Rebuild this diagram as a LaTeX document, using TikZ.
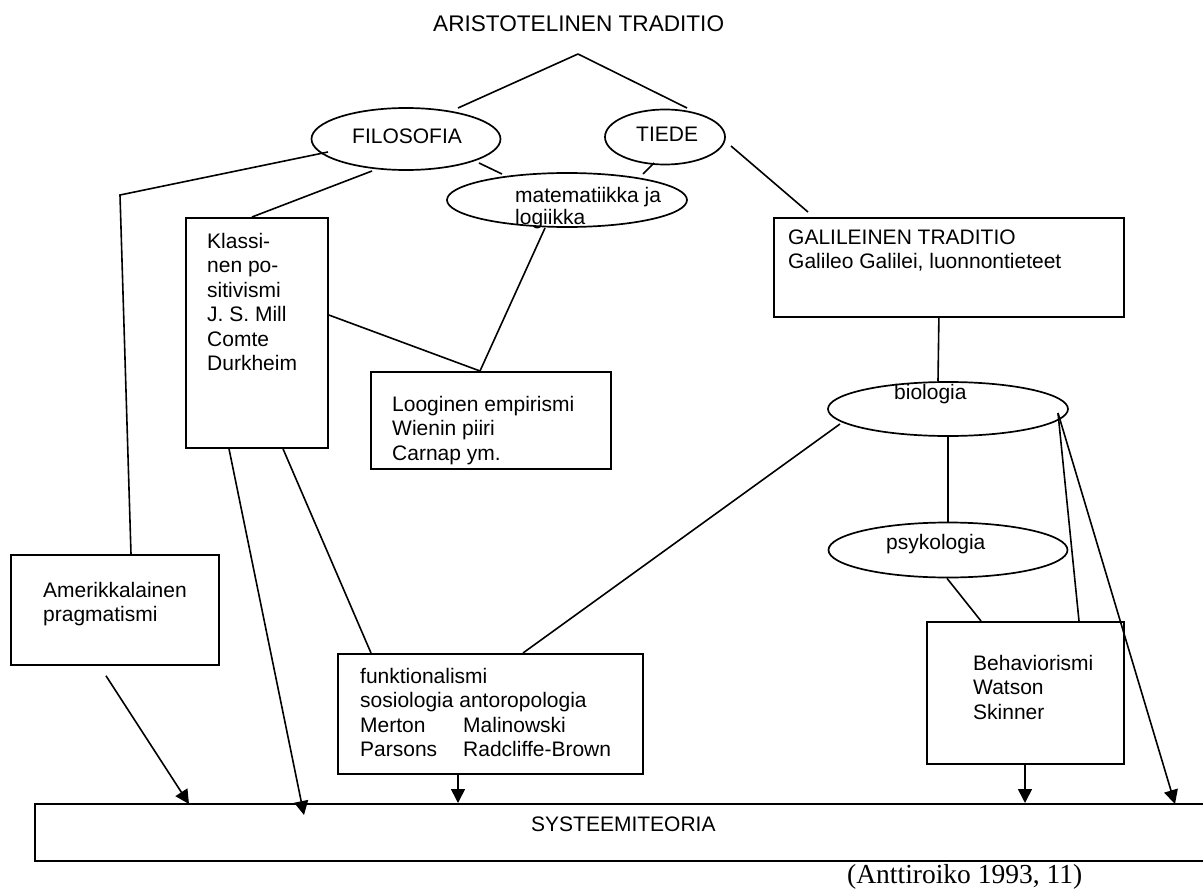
\documentclass[tikz,border=0pt]{standalone}
\usepackage{fontspec}
\setmainfont{Liberation Sans}
\newfontfamily\citefont{Liberation Serif}
\usetikzlibrary{shapes.geometric,arrows.meta,calc}

% left-aligned multi-line text whose baseline is the first line
\newcommand{\txtlines}[1]{\begin{tabular}[t]{@{}l@{}}#1\end{tabular}}

\begin{document}
\begin{tikzpicture}[x=1pt,y=-1pt,
  lbl/.style={inner sep=0pt, anchor=base west, font=\fontsize{21}{24.5}\selectfont},
  oval/.style={draw, ellipse, inner sep=0pt, line width=1.7pt},
  box/.style={draw, rectangle, inner sep=0pt, anchor=north west, line width=1.8pt},
  link/.style={line width=1.6pt},
  arr/.style={line width=1.6pt, -{Triangle[length=14pt,width=14pt]}},
]
\useasboundingbox (0,0) rectangle (1203,891);
\clip (0,0) rectangle (1203,891);

% ---- title
\node[lbl, font=\fontsize{22.6}{26}\selectfont] (aris) at (433,32) {ARISTOTELINEN TRADITIO};
\coordinate (apex) at (578,54);

% ---- ovals
\node[oval, minimum width=189pt, minimum height=62pt] (filo) at (406,139) {};
\node[oval, minimum width=120pt, minimum height=55pt] (tiede) at (665,137) {};
\node[oval, minimum width=240pt, minimum height=54pt] (mat) at (567,200) {};
\node[oval, minimum width=240pt, minimum height=54pt] (bio) at (948,409) {};
\node[oval, minimum width=239pt, minimum height=55pt] (psy) at (948,550) {};

\node[lbl] (filot) at (352,143) {FILOSOFIA};
\node[lbl] (tiedet) at (636,142) {TIEDE};
\node[lbl, font=\fontsize{21}{22}\selectfont] (matt) at (515,202) {\txtlines{matematiikka ja\\logiikka}};
\node[lbl] (biot) at (894,399) {biologia};
\node[lbl] (psyt) at (886,549) {psykologia};

% ---- boxes
\node[box, minimum width=142pt, minimum height=230pt] (klassi) at (185,217) {};
\node[box, minimum width=240pt, minimum height=97pt] (loog) at (370,371) {};
\node[box, minimum width=208pt, minimum height=110pt] (amer) at (10,554) {};
\node[box, minimum width=305pt, minimum height=120pt] (funk) at (337,653) {};
\node[box, minimum width=350pt, minimum height=99pt] (gal) at (773,217) {};
\node[box, minimum width=197pt, minimum height=142pt] (beh) at (926,621) {};
\node[box, minimum width=1200pt, minimum height=57pt] (sys) at (34,803) {};

\node[lbl] (klassit) at (207,248) {\txtlines{Klassi-\\nen po-\\sitivismi\\J. S. Mill\\Comte\\Durkheim}};
\node[lbl] (loogt) at (392,411) {\txtlines{Looginen empirismi\\Wienin piiri\\Carnap ym.}};
\node[lbl] (amert) at (43,597) {\txtlines{Amerikkalainen\\pragmatismi}};
\node[lbl] (funkt) at (360,683) {\txtlines{funktionalismi\\sosiologia antoropologia\\\makebox[103pt][l]{Merton}Malinowski\\\makebox[103pt][l]{Parsons}Radcliffe-Brown}};
\node[lbl] (galt) at (788,244) {\txtlines{GALILEINEN TRADITIO\\Galileo Galilei, luonnontieteet}};
\node[lbl] (beht) at (973,670) {\txtlines{Behaviorismi\\Watson\\Skinner}};
\node[lbl] (syst) at (531,831) {SYSTEEMITEORIA};

% ---- connecting lines
\coordinate (bend) at (120,195);
\draw[link] (apex) -- ($(filo.center)+(52,-31)$);
\draw[link] (apex) -- ($(tiede.center)+(22,-29)$);
\draw[link] ($(filo.center)+(-78,13)$) -- (bend) -- ($(amer.north west)+(121,0)$);
\draw[link] ($(filo.center)+(-34,32)$) -- ($(klassi.north west)+(67,0)$);
\draw[link] ($(filo.center)+(73,24)$) -- ($(mat.center)+(-65,-26)$);
\draw[link] ($(tiede.center)+(-11,26)$) -- ($(mat.center)+(76,-26)$);
\draw[link] ($(tiede.center)+(66,9)$) -- ($(gal.north west)+(35,-5)$);
\draw[link] ($(mat.center)+(-22,28)$) -- ($(loog.north west)+(110,0)$);
\draw[link] ($(klassi.north east)+(0,98)$) -- ($(loog.north west)+(110,0)$);
\draw[link] ($(gal.south)+(-10,0)$) -- ($(bio.north)+(-10,0)$);
\draw[link] (bio.south) -- (psy.north);
\draw[link] ($(psy.south)+(-1,0)$) -- ($(beh.north west)+(55,0)$);
\draw[link] ($(bio.center)+(110,4)$) -- ($(beh.north west)+(153,0)$);
\draw[link] ($(bio.center)+(-108,15)$) -- ($(funk.north west)+(186,0)$);
\draw[link] ($(klassi.south west)+(98,0)$) -- ($(funk.north west)+(34,0)$);

% ---- arrows into the system-theory bar
\draw[arr] ($(bio.center)+(110,4)$) -- ($(sys.north west)+(1141,1)$);
\draw[arr] ($(klassi.south west)+(44,0)$) -- ($(sys.north west)+(270,12)$);
\draw[arr] ($(amer.south west)+(96,10)$) -- ($(sys.north west)+(155,1)$);
\draw[arr] ($(funk.south west)+(121,0)$) -- ($(sys.north west)+(424,0)$);
\draw[arr] ($(beh.south west)+(99,0)$) -- ($(sys.north west)+(991,0)$);

% ---- source
\node[inner sep=0pt, anchor=base west, font=\citefont\fontsize{27.5}{32}\selectfont] (cite) at (847,883) {(Anttiroiko 1993, 11)};
\end{tikzpicture}
\end{document}
